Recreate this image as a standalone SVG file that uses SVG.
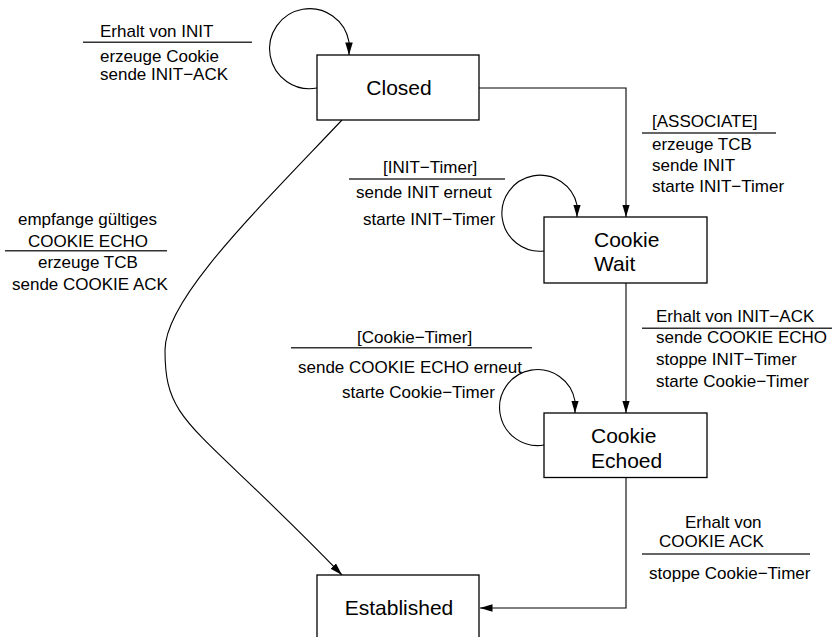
<svg xmlns="http://www.w3.org/2000/svg" width="832" height="637" viewBox="0 0 832 637">
  <style>
    .box { fill: #ffffff; stroke: #000000; stroke-width: 1.3; }
    .state { font-family: "Liberation Sans", Arial, Helvetica, sans-serif; font-size: 21px; fill: #000000; }
    .lbl { font-family: "Liberation Sans", Arial, Helvetica, sans-serif; font-size: 17px; fill: #000000; }
    .sep { stroke: #333333; stroke-width: 1.4; fill: none; }
    .edge { fill: none; stroke: #000000; stroke-width: 1.1; marker-end: url(#arrow); }
    .plain { fill: none; stroke: #000000; stroke-width: 1.1; }
  </style>
  <defs>
    <marker id="arrow" markerUnits="userSpaceOnUse" markerWidth="14" markerHeight="10" refX="12.5" refY="3.75" orient="auto">
      <path d="M0,0 L12.5,3.75 L0,7.5 Z" fill="#000000"/>
    </marker>
  </defs>

  <rect width="832" height="637" fill="#ffffff"/>

  <!-- transitions -->
  <g id="connectors">
    <path class="edge" d="M317,88 A40,40 0 1 1 349,42 L349,55"/>
    <path class="edge" d="M479,88 H626 V217"/>
    <path class="edge" d="M544,251 A38,38 0 1 1 577,205 L577,217"/>
    <path class="edge" d="M626,283 V413"/>
    <path class="edge" d="M544,445 A38,38 0 1 1 575,401 L575,413"/>
    <path class="edge" d="M626,477.5 V608 H480"/>
    <path class="edge" d="M342,120 C252,215 165,300 165,350 C165,425 192,420 342,575"/>
  </g>

  <!-- transition labels: event above the bar, actions below -->
  <g id="label-closed-loop">
    <text class="lbl" x="100" y="37">Erhalt von INIT</text>
    <line class="sep" x1="83" y1="42.3" x2="252" y2="42.3"/>
    <text class="lbl" x="100" y="61.5">erzeuge Cookie</text>
    <text class="lbl" x="100" y="80">sende INIT−ACK</text>
  </g>
  <g id="label-associate">
    <text class="lbl" x="652" y="127">[ASSOCIATE]</text>
    <line class="sep" x1="642" y1="133" x2="776" y2="133"/>
    <text class="lbl" x="652" y="150">erzeuge TCB</text>
    <text class="lbl" x="652" y="170.5">sende INIT</text>
    <text class="lbl" x="652" y="191.5">starte INIT−Timer</text>
  </g>
  <g id="label-init-timer">
    <text class="lbl" x="383" y="173">[INIT−Timer]</text>
    <line class="sep" x1="349" y1="179" x2="505" y2="179"/>
    <text class="lbl" x="356" y="198">sende INIT erneut</text>
    <text class="lbl" x="363" y="224.5">starte INIT−Timer</text>
  </g>
  <g id="label-init-ack">
    <text class="lbl" x="656" y="321.7">Erhalt von INIT−ACK</text>
    <line class="sep" x1="642" y1="328.3" x2="832" y2="328.3"/>
    <text class="lbl" x="656" y="343.3">sende COOKIE ECHO</text>
    <text class="lbl" x="656" y="365">stoppe INIT−Timer</text>
    <text class="lbl" x="656" y="386.7">starte Cookie−Timer</text>
  </g>
  <g id="label-cookie-timer">
    <text class="lbl" x="357" y="343">[Cookie−Timer]</text>
    <line class="sep" x1="291" y1="347.7" x2="532" y2="347.7"/>
    <text class="lbl" x="298" y="373">sende COOKIE ECHO erneut</text>
    <text class="lbl" x="342" y="398">starte Cookie−Timer</text>
  </g>
  <g id="label-cookie-ack">
    <text class="lbl" x="685" y="528">Erhalt von</text>
    <text class="lbl" x="659" y="546.5">COOKIE ACK</text>
    <line class="sep" x1="642" y1="554" x2="810" y2="554"/>
    <text class="lbl" x="649" y="578.5">stoppe Cookie−Timer</text>
  </g>
  <g id="label-cookie-echo">
    <text class="lbl" x="18" y="225">empfange gültiges</text>
    <text class="lbl" x="28" y="246.7">COOKIE ECHO</text>
    <line class="sep" x1="5" y1="250.7" x2="167" y2="250.7"/>
    <text class="lbl" x="38" y="268.3">erzeuge TCB</text>
    <text class="lbl" x="12" y="290">sende COOKIE ACK</text>
  </g>

  <!-- states -->
  <g id="closed">
    <rect class="box" x="317" y="55" width="162" height="65"/>
    <text class="state" x="399" y="95" text-anchor="middle">Closed</text>
  </g>
  <g id="cookie-wait">
    <rect class="box" x="544" y="217" width="163" height="66"/>
    <text class="state" x="594" y="246.7">Cookie</text>
    <text class="state" x="594" y="270.7">Wait</text>
  </g>
  <g id="cookie-echoed">
    <rect class="box" x="544" y="413" width="163" height="64.5"/>
    <text class="state" x="591" y="443.3">Cookie</text>
    <text class="state" x="591" y="467.5">Echoed</text>
  </g>
  <g id="established">
    <rect class="box" x="317" y="575" width="162" height="75"/>
    <text class="state" x="399" y="615" text-anchor="middle">Established</text>
  </g>
</svg>
